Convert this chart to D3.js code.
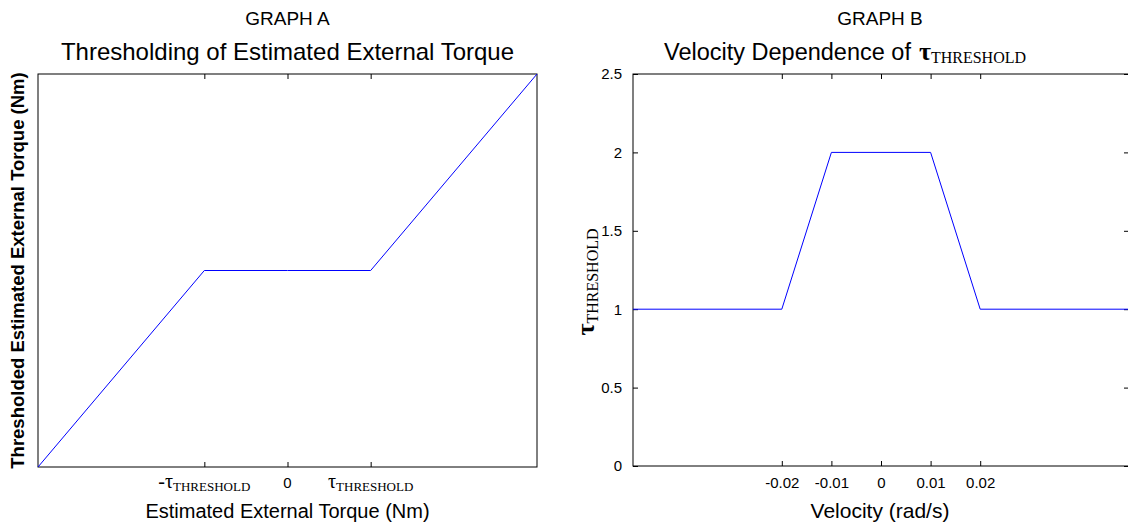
<!DOCTYPE html>
<html>
<head>
<meta charset="utf-8">
<script src="https://cdn.jsdelivr.net/npm/d3@7"></script>
<style>
  body { margin: 0; background: #fff; }
  svg { display: block; }
  text { font-family: "Liberation Sans", Arial, sans-serif; fill: #000; }
  .serif { font-family: "Liberation Serif", "Times New Roman", serif; }
</style>
</head>
<body>
<div id="chart"></div>
<script>
// Graph A: thresholding of the estimated external torque (tau = 1)
var torqueIn = [-3, -1, 0, 1, 3];
var torqueOut = [-2, 0, 0, 0, 2];
var torqueTicks = [-1, 0, 1];
var torqueTickLabels = ["-τ", "0", "τ"];

// Graph B: velocity dependence of tau threshold
var velocity = [-0.05, -0.02, -0.01, 0.01, 0.02, 0.05];
var tauThreshold = [1, 1, 2, 2, 1, 1];
var velocityTicks = [-0.02, -0.01, 0, 0.01, 0.02];
var tauTicks = [0, 0.5, 1, 1.5, 2, 2.5];

var W = 1128, H = 525;

var svg = d3.select("#chart")
    .append("svg")
    .attr("width", W)
    .attr("height", H);

// ---------- GRAPH A ----------
var boxA = {left: 38, right: 537, top: 74, bottom: 467};

var xA = d3.scaleLinear().domain([-3, 3]).range([boxA.left, boxA.right]);
var yA = d3.scaleLinear().domain([-2, 2]).range([boxA.bottom, boxA.top]);

var gA = svg.append("g");

gA.append("rect")
    .attr("x", boxA.left).attr("y", boxA.top)
    .attr("width", boxA.right - boxA.left)
    .attr("height", boxA.bottom - boxA.top)
    .attr("fill", "none").attr("stroke", "#000").attr("stroke-width", 1);

// bottom ticks (inward), labels added by hand below
var axA = gA.append("g")
    .attr("transform", "translate(0," + boxA.bottom + ")")
    .call(d3.axisBottom(xA).tickValues(torqueTicks).tickSizeInner(-5).tickSizeOuter(0).tickFormat(""));
axA.select(".domain").remove();

// mirrored top ticks
var axAt = gA.append("g")
    .attr("transform", "translate(0," + boxA.top + ")")
    .call(d3.axisTop(xA).tickValues(torqueTicks).tickSizeInner(-5).tickSizeOuter(0).tickFormat(""));
axAt.select(".domain").remove();

torqueTicks.forEach(function (v, i) {
    var t = gA.append("text")
        .attr("x", xA(v))
        .attr("y", boxA.bottom + 21)
        .attr("text-anchor", "middle");
    if (torqueTickLabels[i] === "0") {
        t.style("font-size", "15px").text("0");
    } else {
        t.append("tspan").attr("class", "serif").style("font-size", "20px").text(torqueTickLabels[i]);
        t.append("tspan").attr("class", "serif").style("font-size", "13px").attr("dy", 3).text("THRESHOLD");
    }
});

gA.append("path")
    .datum(d3.zip(torqueIn, torqueOut))
    .attr("fill", "none")
    .attr("stroke", "#0000ff")
    .attr("stroke-width", 1)
    .attr("d", d3.line().x(function (d) { return xA(d[0]); }).y(function (d) { return yA(d[1]); }));

gA.append("text")
    .attr("x", (boxA.left + boxA.right) / 2).attr("y", 25)
    .attr("text-anchor", "middle").style("font-size", "19px")
    .text("GRAPH A");
gA.append("text")
    .attr("x", (boxA.left + boxA.right) / 2).attr("y", 60)
    .attr("text-anchor", "middle").style("font-size", "24px")
    .text("Thresholding of Estimated External Torque");
gA.append("text")
    .attr("x", (boxA.left + boxA.right) / 2).attr("y", 518)
    .attr("text-anchor", "middle").style("font-size", "20px")
    .text("Estimated External Torque (Nm)");
gA.append("text")
    .attr("transform", "translate(24," + ((boxA.top + boxA.bottom) / 2) + ") rotate(-90)")
    .attr("text-anchor", "middle").style("font-size", "18.5px").style("font-weight", "bold")
    .text("Thresholded Estimated External Torque (Nm)");

// ---------- GRAPH B ----------
var boxB = {left: 633, right: 1129, top: 74, bottom: 466};

var xB = d3.scaleLinear().domain([-0.05, 0.05]).range([boxB.left, boxB.right]);
var yB = d3.scaleLinear().domain([0, 2.5]).range([boxB.bottom, boxB.top]);

var gB = svg.append("g");

gB.append("rect")
    .attr("x", boxB.left).attr("y", boxB.top)
    .attr("width", boxB.right - boxB.left)
    .attr("height", boxB.bottom - boxB.top)
    .attr("fill", "none").attr("stroke", "#000").attr("stroke-width", 1);

var fmt = function (d) { return d === 0 ? "0" : String(d); };

var axB = gB.append("g")
    .attr("transform", "translate(0," + boxB.bottom + ")")
    .call(d3.axisBottom(xB).tickValues(velocityTicks).tickSizeInner(-5).tickSizeOuter(0).tickPadding(11).tickFormat(fmt));
axB.select(".domain").remove();
axB.selectAll("text").style("font-size", "15px").style("font-family", "Liberation Sans, Arial, sans-serif");

var axBt = gB.append("g")
    .attr("transform", "translate(0," + boxB.top + ")")
    .call(d3.axisTop(xB).tickValues(velocityTicks).tickSizeInner(-5).tickSizeOuter(0).tickFormat(""));
axBt.select(".domain").remove();

var ayB = gB.append("g")
    .attr("transform", "translate(" + boxB.left + ",0)")
    .call(d3.axisLeft(yB).tickValues(tauTicks).tickSizeInner(-5).tickSizeOuter(0).tickPadding(11).tickFormat(fmt));
ayB.select(".domain").remove();
ayB.selectAll("text").style("font-size", "15px").style("font-family", "Liberation Sans, Arial, sans-serif");

var ayBr = gB.append("g")
    .attr("transform", "translate(" + boxB.right + ",0)")
    .call(d3.axisRight(yB).tickValues(tauTicks).tickSizeInner(-5).tickSizeOuter(0).tickFormat(""));
ayBr.select(".domain").remove();

gB.append("path")
    .datum(d3.zip(velocity, tauThreshold))
    .attr("fill", "none")
    .attr("stroke", "#0000ff")
    .attr("stroke-width", 1)
    .attr("d", d3.line().x(function (d) { return xB(d[0]); }).y(function (d) { return yB(d[1]); }));

gB.append("text")
    .attr("x", 880).attr("y", 25)
    .attr("text-anchor", "middle").style("font-size", "19px")
    .text("GRAPH B");

var tB = gB.append("text")
    .attr("x", 664).attr("y", 60)
    .style("font-size", "23.5px");
tB.append("tspan").text("Velocity Dependence of");
tB.append("tspan").attr("class", "serif").style("font-size", "26px").style("font-weight", "bold").attr("dx", 8).text("τ");
tB.append("tspan").attr("class", "serif").style("font-size", "16px").attr("dy", 3).text("THRESHOLD");

gB.append("text")
    .attr("x", 880).attr("y", 518)
    .attr("text-anchor", "middle").style("font-size", "21px")
    .text("Velocity (rad/s)");

var yl = gB.append("text")
    .attr("transform", "translate(594,282) rotate(-90)")
    .attr("text-anchor", "middle");
yl.append("tspan").attr("class", "serif").style("font-size", "26px").style("font-weight", "bold").text("τ");
yl.append("tspan").attr("class", "serif").style("font-size", "16px").attr("dy", 4).text("THRESHOLD");
</script>
</body>
</html>
